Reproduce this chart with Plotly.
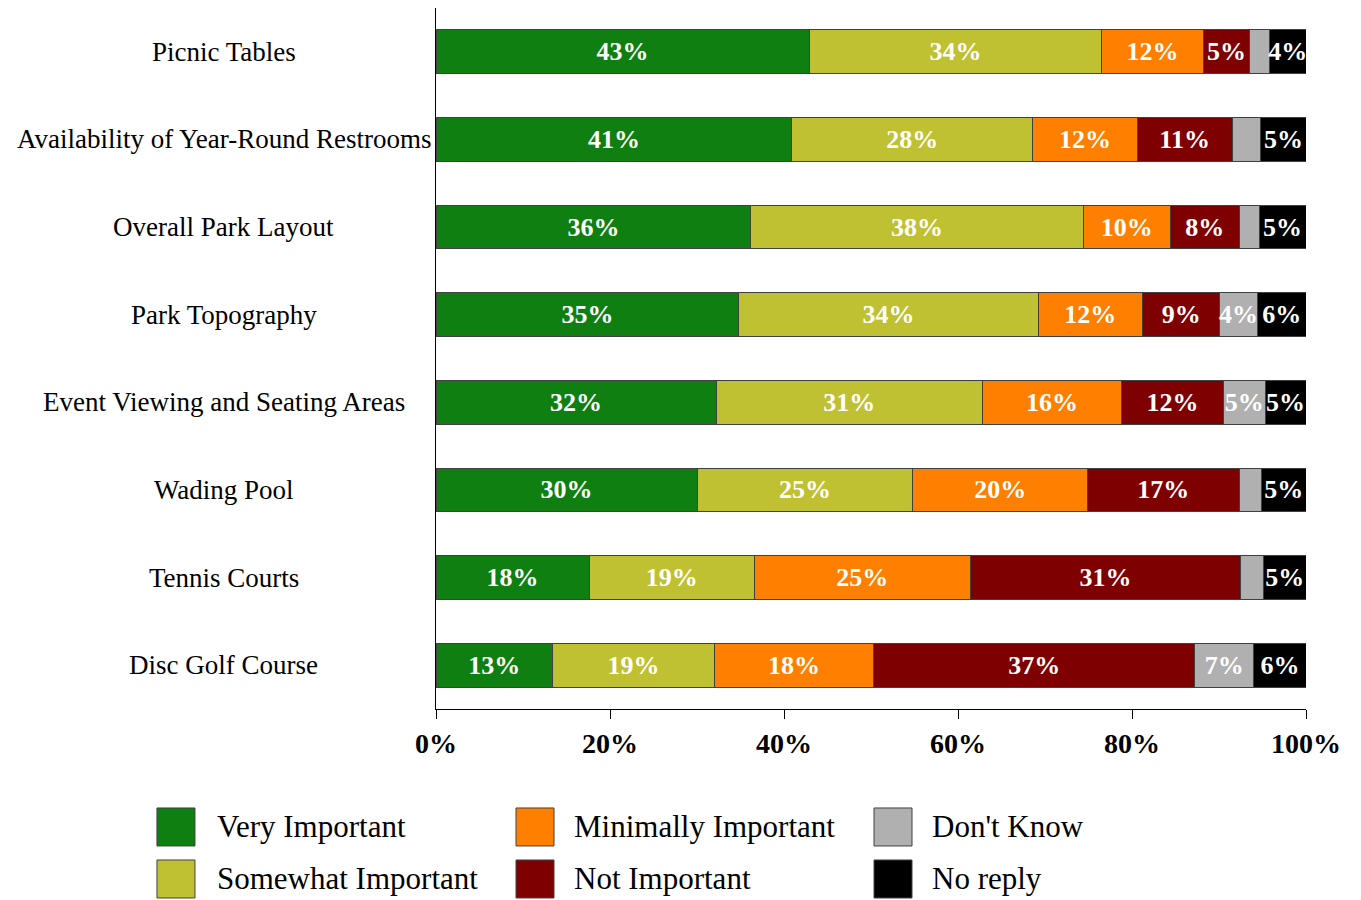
import plotly.graph_objects as go

# ── data ──
categories = [
    "Picnic Tables",
    "Availability of Year-Round Restrooms",
    "Overall Park Layout",
    "Park Topography",
    "Event Viewing and Seating Areas",
    "Wading Pool",
    "Tennis Courts",
    "Disc Golf Course",
]
series_names = ["Very Important", "Somewhat Important", "Minimally Important",
                "Not Important", "Don't Know", "No reply"]
very_important = [42.9, 40.9, 36.2, 34.8, 32.2, 30.0, 17.6, 13.4]
somewhat_important = [33.6, 27.7, 38.2, 34.4, 30.6, 24.8, 19.0, 18.6]
minimally_important = [11.7, 12.0, 10.0, 12.0, 16.0, 20.1, 24.8, 18.3]
not_important = [5.3, 10.9, 7.9, 8.9, 11.7, 17.4, 31.1, 36.9]
dont_know = [2.3, 3.3, 2.3, 4.3, 4.8, 2.6, 2.6, 6.8]
no_reply = [4.2, 5.2, 5.4, 5.6, 4.7, 5.1, 4.9, 6.0]
x_ticks = [0, 20, 40, 60, 80, 100]
x_tick_labels = ["0%", "20%", "40%", "60%", "80%", "100%"]

COLORS = ["#0E7F10", "#C0C033", "#FF8000", "#7F0000", "#B0B0B0", "#000000"]
SERIF = "Liberation Serif, Times New Roman, serif"
OUTLINE = "#404040"

all_values = [very_important, somewhat_important, minimally_important,
              not_important, dont_know, no_reply]

fig = go.Figure()
for name, vals, color in zip(series_names, all_values, COLORS):
    fig.add_trace(go.Bar(
        y=categories, x=vals, name=name, orientation="h",
        marker=dict(color=color, line=dict(color=OUTLINE, width=1)),
        text=[f"{v:.0f}%" if v >= 3.5 else "" for v in vals],
        textposition="inside", insidetextanchor="middle", textangle=0,
        constraintext="none",
        textfont=dict(family=SERIF, size=26, color="white", weight="bold"),
        showlegend=False, hoverinfo="x+name",
    ))

# category labels, centred in the left margin
annotations = [
    dict(text=c, x=-0.2437, xref="paper", y=c, yref="y", xanchor="center",
         yanchor="middle", showarrow=False, font=dict(family=SERIF, size=27, color="black"))
    for c in categories
]

# hand-built legend (large square swatches, 3 columns x 2 rows)
shapes = []
swatch_x = [-0.2989, 0.1138, 0.5253]
text_x = [-0.254, 0.1563, 0.5678]
row_y = [-0.1683, -0.2425]
for i, (name, color) in enumerate(zip(series_names, COLORS)):
    col, row = i // 2, i % 2
    shapes.append(dict(
        type="rect", xref="paper", yref="paper",
        xsizemode="pixel", ysizemode="pixel",
        xanchor=swatch_x[col], yanchor=row_y[row],
        x0=-19, x1=19, y0=-19, y1=19,
        fillcolor=color, line=dict(color=OUTLINE, width=1),
    ))
    annotations.append(dict(
        text=name, x=text_x[col], xref="paper", y=row_y[row], yref="paper",
        xanchor="left", yanchor="middle", showarrow=False,
        font=dict(family=SERIF, size=31, color="black"),
    ))

fig.update_layout(
    barmode="stack",
    bargap=0.5,
    width=1353, height=892,
    paper_bgcolor="white", plot_bgcolor="white",
    margin=dict(l=428, r=55, t=0, b=191),
    font=dict(family=SERIF, color="black"),
    xaxis=dict(range=[0, 100], tickvals=x_ticks, ticktext=x_tick_labels,
               showgrid=False, zeroline=False, showline=True, linecolor="black", linewidth=1,
               ticks="outside", ticklen=9, tickcolor="black",
               tickfont=dict(family=SERIF, size=28, color="black", weight="bold")),
    xaxis2=dict(range=[0, 100], tickvals=x_ticks, overlaying="x", anchor="y",
                side="bottom", showticklabels=False, showgrid=False, zeroline=False,
                ticks="inside", ticklen=9, tickcolor="black", showline=False),
    yaxis=dict(autorange="reversed", showticklabels=False, showgrid=False,
               zeroline=False, showline=True, linecolor="black", linewidth=1, ticks=""),
    annotations=annotations,
    shapes=shapes,
    showlegend=False,
)

fig.write_html("out.html")
